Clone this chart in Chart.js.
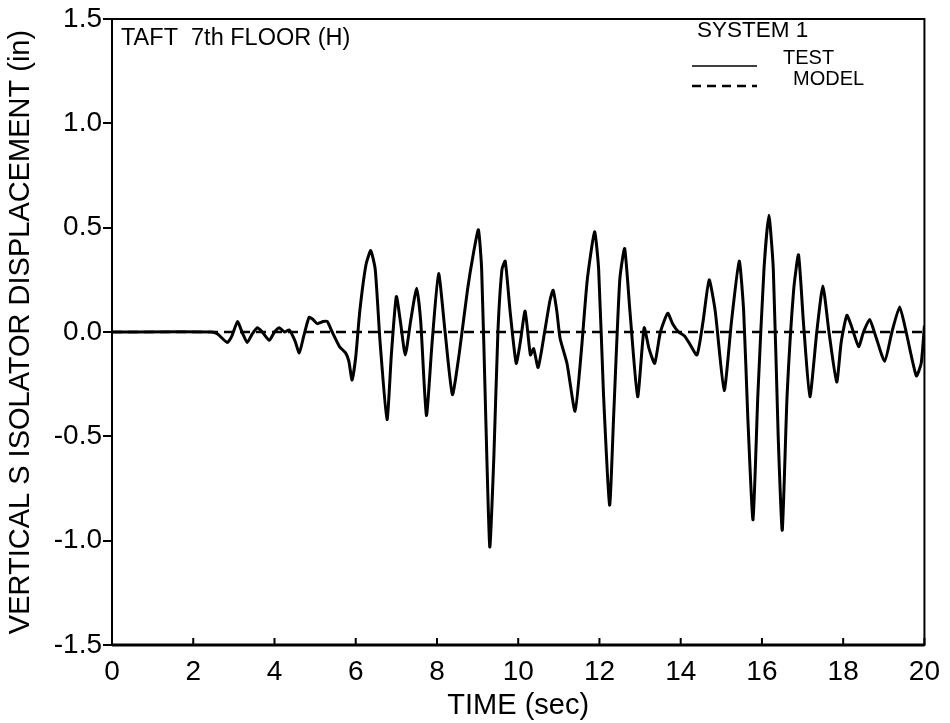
<!DOCTYPE html>
<html>
<head>
<meta charset="utf-8">
<script src="https://cdn.jsdelivr.net/npm/chart.js@4/dist/chart.umd.min.js"></script>
<style>
  html, body { margin: 0; padding: 0; background: #fff; }
  #wrap { width: 950px; height: 723px; }
</style>
</head>
<body>
<div id="wrap"><canvas id="c" width="950" height="723"></canvas></div>
<script>
// Recorded vertical isolator displacement (in) versus time (sec)
const testTime = [
  0, 2.45, 2.6, 2.84, 2.95, 3.09, 3.2, 3.33, 3.45, 3.58, 3.7, 3.87, 4.0, 4.12, 4.25, 4.36,
  4.5, 4.61, 4.72, 4.85, 4.95, 5.05, 5.2, 5.3, 5.42, 5.6, 5.75, 5.83, 5.91, 6.0, 6.1, 6.25,
  6.37, 6.48, 6.6, 6.77, 6.88, 7.0, 7.1, 7.22, 7.35, 7.5, 7.6, 7.74, 7.88, 8.04, 8.2, 8.38,
  8.55, 8.75, 8.9, 9.02, 9.1, 9.2, 9.3, 9.4, 9.5, 9.6, 9.68, 9.8, 9.95, 10.05, 10.17, 10.3,
  10.38, 10.49, 10.65, 10.78, 10.86, 10.95, 11.03, 11.2, 11.4, 11.55, 11.7, 11.88, 11.98, 12.1,
  12.25, 12.35, 12.5, 12.62, 12.75, 12.94, 13.1, 13.22, 13.36, 13.5, 13.68, 13.8, 13.95, 14.1,
  14.2, 14.4, 14.55, 14.7, 14.85, 15.07, 15.25, 15.44, 15.55, 15.65, 15.78, 15.9, 16.05, 16.17,
  16.28, 16.4, 16.5, 16.62, 16.78, 16.9, 17.02, 17.18, 17.35, 17.5, 17.65, 17.84, 17.95, 18.09,
  18.2, 18.38, 18.5, 18.65, 18.8, 19.02, 19.2, 19.39, 19.55, 19.8, 19.92, 20
];
const testDisp = [
  0, 0, -0.01, -0.05, -0.02, 0.05, 0.0, -0.05, -0.01, 0.02, 0.0, -0.04, 0.0, 0.02, 0.0, 0.01,
  -0.04, -0.1, -0.02, 0.07, 0.06, 0.04, 0.05, 0.05, 0.0, -0.07, -0.1, -0.14, -0.23, -0.12, 0.1, 0.32,
  0.39, 0.3, -0.05, -0.42, -0.1, 0.17, 0.05, -0.11, 0.05, 0.21, 0.05, -0.4, -0.05, 0.28, 0.0, -0.3,
  -0.1, 0.2, 0.38, 0.49, 0.3, -0.4, -1.03, -0.6, 0.0, 0.3, 0.34, 0.1, -0.15, -0.05, 0.1, -0.11,
  -0.08, -0.17, 0.0, 0.15, 0.2, 0.1, -0.03, -0.15, -0.38, -0.1, 0.25, 0.48, 0.3, -0.3,
  -0.83, -0.4, 0.25, 0.4, 0.1, -0.31, 0.02, -0.08, -0.15, 0.0, 0.09, 0.04, 0.0, -0.02,
  -0.05, -0.11, 0.05, 0.25, 0.1, -0.28, 0.05, 0.34, 0.1, -0.4, -0.9, -0.3, 0.3, 0.56,
  0.3, -0.5, -0.95, -0.3, 0.2, 0.37, 0.05, -0.31, 0.0, 0.22, 0.0, -0.24, -0.05, 0.08,
  0.03, -0.07, 0.0, 0.06, -0.02, -0.14, 0.0, 0.12, 0.0, -0.21, -0.15, 0.03
];
// Model response (flat at zero over the record)
const modelTime = [0, 20];
const modelDisp = [0, 0];

const xTicks = [0, 2, 4, 6, 8, 10, 12, 14, 16, 18, 20];
const yTicks = [-1.5, -1.0, -0.5, 0.0, 0.5, 1.0, 1.5];

const FONT = '"Liberation Sans", Arial, sans-serif';

const toPoints = (xs, ys) => xs.map((x, i) => ({ x, y: ys[i] }));

// Frame, inward x tick marks, caption and key
const decor = {
  id: 'decor',
  afterDatasetsDraw(chart) {
    const { ctx, chartArea: a, scales } = chart;
    ctx.save();
    ctx.strokeStyle = '#000';
    ctx.lineWidth = 2;
    ctx.strokeRect(a.left, a.top, a.right - a.left, a.bottom - a.top);
    ctx.lineWidth = 3;
    ctx.beginPath();
    ctx.moveTo(a.left, a.bottom); ctx.lineTo(a.right, a.bottom);
    ctx.stroke();
    ctx.lineWidth = 2;
    xTicks.forEach(v => {
      const px = scales.x.getPixelForValue(v);
      ctx.beginPath();
      ctx.moveTo(px, a.bottom); ctx.lineTo(px, a.bottom - 7);
      ctx.stroke();
    });

    ctx.fillStyle = '#000';
    ctx.textBaseline = 'middle';
    ctx.textAlign = 'left';
    ctx.font = '23.5px ' + FONT;
    ctx.fillText('TAFT  7th FLOOR (H)', 121, 39);

    ctx.font = '22.5px ' + FONT;
    ctx.fillText('SYSTEM 1', 697, 31);
    ctx.font = '20px ' + FONT;
    ctx.fillText('TEST', 783, 58);
    ctx.fillText('MODEL', 793, 79);

    ctx.lineWidth = 1.5;
    ctx.beginPath();
    ctx.moveTo(692, 66); ctx.lineTo(757, 66);
    ctx.stroke();
    ctx.lineWidth = 2.5;
    ctx.setLineDash([9, 6]);
    ctx.beginPath();
    ctx.moveTo(692, 86); ctx.lineTo(757, 86);
    ctx.stroke();
    ctx.restore();
  }
};

new Chart(document.getElementById('c'), {
  type: 'line',
  data: {
    datasets: [
      {
        label: 'MODEL',
        data: toPoints(modelTime, modelDisp),
        borderColor: '#000',
        borderWidth: 2.5,
        borderDash: [10, 6],
        pointRadius: 0,
        fill: false
      },
      {
        label: 'TEST',
        data: toPoints(testTime, testDisp),
        borderColor: '#000',
        borderWidth: 3,
        pointRadius: 0,
        tension: 0.18,
        fill: false
      }
    ]
  },
  options: {
    responsive: false,
    animation: false,
    layout: { padding: { top: 19, right: 22, left: 0, bottom: 0 } },
    plugins: { legend: { display: false }, tooltip: { enabled: false } },
    scales: {
      x: {
        type: 'linear',
        min: 0, max: 20,
        afterBuildTicks: s => { s.ticks = xTicks.map(v => ({ value: v })); },
        afterFit: s => { s.height = 78; },
        border: { display: false },
        grid: { display: false, drawTicks: false },
        ticks: {
          color: '#000', padding: 10,
          font: { family: FONT, size: 28 },
          maxRotation: 0,
          callback: v => String(v)
        },
        title: {
          display: true, text: 'TIME (sec)', color: '#000',
          font: { family: FONT, size: 29 },
          padding: { top: 0, bottom: 0 }
        }
      },
      y: {
        type: 'linear',
        min: -1.5, max: 1.5,
        afterBuildTicks: s => { s.ticks = yTicks.map(v => ({ value: v })); },
        afterFit: s => { s.width = 112; },
        border: { display: false },
        grid: { drawOnChartArea: false, drawTicks: true, tickLength: 9, color: '#000', lineWidth: 2 },
        ticks: {
          color: '#000', padding: 1,
          font: { family: FONT, size: 28 },
          callback: v => v.toFixed(1)
        },
        title: {
          display: true, text: 'VERTICAL S ISOLATOR DISPLACEMENT (in)', color: '#000',
          font: { family: FONT, size: 29 },
          padding: { top: 4, bottom: 0 }
        }
      }
    }
  },
  plugins: [decor]
});
</script>
</body>
</html>
